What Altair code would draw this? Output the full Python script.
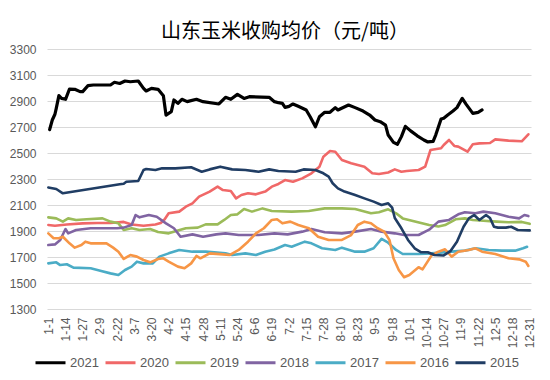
import altair as alt
import pandas as pd

# ---- tick labels (category axis, one label every 13 days) ----
tick_days = [1, 14, 27, 40, 53, 66, 79, 92, 105, 118, 131, 144, 157, 170, 183,
             196, 209, 222, 235, 248, 261, 274, 287, 300, 313, 326, 339, 352, 365]
tick_labels = ["1-1", "1-14", "1-27", "2-9", "2-22", "3-7", "3-20", "4-2", "4-15",
               "4-28", "5-11", "5-24", "6-6", "6-19", "7-2", "7-15", "7-28", "8-10",
               "8-23", "9-5", "9-18", "10-1", "10-14", "10-27", "11-9", "11-22",
               "12-5", "12-18", "12-31"]
y_ticks = [1300, 1500, 1700, 1900, 2100, 2300, 2500, 2700, 2900, 3100, 3300]

series_names = ["2021", "2020", "2019", "2018", "2017", "2016", "2015"]
series_colors = ["#000000", "#f06868", "#9bbb59", "#8064a2", "#4bacc6", "#f79646", "#203d64"]

# ---- series values (day of year, price) ----
d2021 = [2, 4, 6, 7, 9, 11, 14, 17, 21, 25, 27, 31, 35, 48, 51, 55, 59, 63, 69, 73, 75, 79,
         84, 88, 90, 94, 96, 99, 102, 106, 113, 118, 130, 135, 139, 144, 149, 153, 168, 172,
         175, 178, 180, 183, 186, 190, 196, 199, 203, 206, 210, 214, 218, 220, 228, 233, 239,
         244, 248, 252, 256, 258, 262, 265, 268, 271, 275, 280, 285, 288, 292, 294, 298, 300,
         303, 307, 310, 314, 317, 322, 326, 329]
v2021 = [2680, 2754, 2798, 2844, 2941, 2920, 2913, 2992, 2990, 2972, 2972, 3018, 3023, 3023,
         3044, 3035, 3054, 3048, 3054, 2997, 2977, 2997, 2990, 2940, 2792, 2818, 2908, 2882,
         2913, 2895, 2913, 2895, 2877, 2928, 2913, 2951, 2920, 2933, 2928, 2895, 2887, 2882,
         2851, 2859, 2877, 2859, 2831, 2779, 2702, 2779, 2813, 2813, 2849, 2831, 2869, 2849,
         2823, 2792, 2754, 2741, 2715, 2638, 2582, 2567, 2626, 2705, 2670, 2632, 2600, 2585,
         2590, 2640, 2762, 2767, 2792, 2823, 2849, 2920, 2874, 2805, 2813, 2831]

d2020 = [1, 6, 15, 27, 38, 48, 58, 64, 73, 82, 86, 89, 92, 100, 105, 110, 115, 123, 129, 133,
         139, 143, 147, 152, 158, 165, 170, 175, 180, 186, 193, 200, 206, 209, 214, 218, 223,
         230, 240, 246, 251, 258, 263, 268, 272, 281, 286, 290, 298, 300, 304, 308, 311, 318,
         322, 327, 335, 339, 349, 359, 364]
v2020 = [1946, 1941, 1950, 1959, 1962, 1962, 1970, 1950, 1941, 1950, 1962, 1990, 2036, 2049,
         2087, 2113, 2164, 2203, 2241, 2215, 2208, 2151, 2177, 2190, 2182, 2203, 2241, 2262,
         2292, 2279, 2305, 2344, 2395, 2472, 2515, 2510, 2446, 2421, 2395, 2344, 2338, 2350,
         2374, 2356, 2362, 2369, 2395, 2523, 2536, 2562, 2600, 2554, 2549, 2510, 2567, 2574,
         2577, 2605, 2595, 2590, 2644]

d2019 = [1, 7, 12, 16, 22, 30, 42, 48, 54, 58, 64, 70, 78, 84, 92, 99, 105, 114, 120, 129,
         134, 139, 144, 149, 155, 163, 170, 185, 198, 210, 223, 233, 245, 251, 258, 264, 269,
         279, 289, 296, 301, 309, 316, 322, 330, 340, 349, 359, 365]
v2019 = [2005, 1997, 1972, 1997, 1985, 1990, 1997, 1972, 1959, 1908, 1921, 1908, 1915, 1892,
         1882, 1903, 1921, 1926, 1951, 1951, 1985, 2023, 2028, 2069, 2049, 2074, 2054, 2049,
         2054, 2074, 2074, 2069, 2036, 2044, 2067, 2036, 1997, 1972, 1946, 1935, 1946, 1990,
         1997, 1985, 1979, 1972, 1967, 1970, 1955]

d2018 = [1, 6, 10, 14, 16, 22, 33, 53, 58, 64, 67, 70, 77, 83, 90, 96, 101, 110, 118, 128,
         135, 145, 160, 172, 182, 193, 200, 210, 223, 233, 245, 253, 263, 270, 281, 289, 296,
         304, 311, 316, 324, 330, 339, 349, 357, 361, 364]
v2018 = [1792, 1797, 1831, 1915, 1882, 1908, 1921, 1921, 1926, 1946, 2023, 2005, 2023, 2010,
         1959, 1921, 1856, 1874, 1856, 1874, 1882, 1869, 1869, 1882, 1874, 1895, 1915, 1890,
         1882, 1895, 1915, 1895, 1882, 1869, 1869, 1910, 1972, 1985, 2028, 2044, 2036, 2049,
         2036, 2010, 1997, 2023, 2015]

d2017 = [1, 7, 10, 15, 20, 33, 41, 48, 54, 59, 64, 68, 73, 80, 85, 92, 100, 110, 120, 135,
         140, 150, 158, 165, 172, 180, 185, 195, 200, 208, 218, 223, 233, 240, 247, 253, 258,
         264, 269, 281, 291, 306, 316, 324, 334, 344, 354, 360, 363]
v2017 = [1651, 1659, 1638, 1644, 1618, 1613, 1592, 1574, 1562, 1600, 1626, 1664, 1651, 1651,
         1703, 1728, 1754, 1741, 1741, 1728, 1715, 1728, 1715, 1741, 1758, 1792, 1779, 1818,
         1805, 1767, 1754, 1772, 1741, 1741, 1767, 1840, 1810, 1754, 1723, 1723, 1728, 1741,
         1749, 1767, 1754, 1749, 1749, 1767, 1779]

d2016 = [1, 5, 9, 12, 17, 21, 26, 29, 33, 45, 50, 54, 58, 63, 68, 73, 78, 84, 88, 92, 99,
         104, 109, 113, 116, 123, 133, 138, 145, 152, 158, 164, 170, 174, 178, 184, 190, 198,
         205, 213, 223, 230, 235, 240, 245, 250, 255, 259, 262, 266, 270, 274, 281, 284, 291,
         296, 301, 306, 311, 319, 324, 329, 339, 349, 357, 362, 364]
v2016 = [1882, 1844, 1844, 1856, 1805, 1772, 1792, 1818, 1805, 1805, 1772, 1741, 1685, 1715,
         1703, 1677, 1659, 1685, 1690, 1664, 1626, 1613, 1651, 1708, 1690, 1728, 1720, 1715,
         1754, 1818, 1882, 1921, 1985, 1990, 1959, 1972, 1946, 1921, 1856, 1831, 1831, 1869,
         1946, 1972, 1959, 1921, 1895, 1830, 1690, 1600, 1544, 1562, 1621, 1605, 1715, 1741,
         1759, 1703, 1741, 1754, 1767, 1741, 1723, 1690, 1682, 1664, 1631]

d2015 = [1, 7, 12, 55, 58, 60, 69, 73, 75, 82, 87, 97, 109, 117, 123, 131, 140, 150, 160,
         168, 175, 188, 194, 203, 209, 213, 216, 220, 225, 233, 240, 247, 253, 258, 261, 263,
         268, 273, 278, 283, 288, 293, 300, 305, 310, 315, 319, 323, 327, 332, 335, 338, 341,
         347, 351, 356, 365]
v2015 = [2235, 2223, 2190, 2259, 2264, 2279, 2285, 2369, 2377, 2369, 2382, 2382, 2390, 2356,
         2374, 2395, 2374, 2369, 2356, 2374, 2362, 2356, 2374, 2369, 2344, 2318, 2267, 2228,
         2203, 2177, 2151, 2126, 2100, 2113, 2080, 2000, 1921, 1831, 1767, 1736, 1736, 1715,
         1712, 1745, 1818, 1933, 1997, 2023, 1985, 2023, 2000, 1933, 1926, 1926, 1933, 1908,
         1905]

all_days = [d2021, d2020, d2019, d2018, d2017, d2016, d2015]
all_vals = [v2021, v2020, v2019, v2018, v2017, v2016, v2015]

rows = []
for name, ds, vs in zip(series_names, all_days, all_vals):
    for d, v in zip(ds, vs):
        rows.append({"series": name, "day": d, "price": v})
df = pd.DataFrame(rows)

label_array = "[" + ",".join("'%s'" % s for s in tick_labels) + "]"
label_expr = label_array + "[round((datum.value - 1) / 13)]"

chart = alt.Chart(df).mark_line(strokeJoin="round", strokeCap="round").encode(
    x=alt.X("day:Q",
            scale=alt.Scale(domain=[0, 366], nice=False, zero=False),
            axis=alt.Axis(values=tick_days, labelExpr=label_expr, title=None,
                          labelAngle=-90, labelAlign="right", labelBaseline="middle",
                          labelPadding=8, grid=False, domain=False, ticks=False,
                          labelFont="Liberation Sans", labelFontSize=12,
                          labelColor="#595959", labelOverlap=False)),
    y=alt.Y("price:Q",
            scale=alt.Scale(domain=[1300, 3300], nice=False, zero=False),
            axis=alt.Axis(values=y_ticks, format="d", title=None, grid=True,
                          gridColor="#d9d9d9", gridWidth=1, domain=False, ticks=False,
                          labelPadding=11, labelFont="Liberation Sans", labelFontSize=12,
                          labelColor="#595959")),
    color=alt.Color("series:N",
                    scale=alt.Scale(domain=series_names, range=series_colors),
                    legend=alt.Legend(title=None, orient="none", direction="horizontal",
                                      legendX=-13, legendY=297, symbolType="stroke",
                                      symbolSize=900, symbolStrokeWidth=3,
                                      labelFont="Liberation Sans", labelFontSize=13,
                                      labelColor="#595959", columnPadding=0,
                                      labelOffset=3, rowPadding=0, padding=0)),
    strokeWidth=alt.condition(alt.datum.series == "2021", alt.value(3.2), alt.value(2.6)),
    order=alt.Order("day:Q"),
).properties(
    width=484,
    height=260,
    title=alt.TitleParams("山东玉米收购均价（元/吨）", font="Noto Sans CJK SC",
                          fontSize=20, fontWeight="normal", color="#000000",
                          anchor="middle", offset=1, dx=-4),
    autosize=alt.AutoSizeParams(type="none"),
    padding={"left": 39, "top": 41, "right": 9, "bottom": 63},
    background="#ffffff",
).configure_view(stroke=None)

chart.save("out.html", embed_options={"renderer": "svg", "actions": False})
